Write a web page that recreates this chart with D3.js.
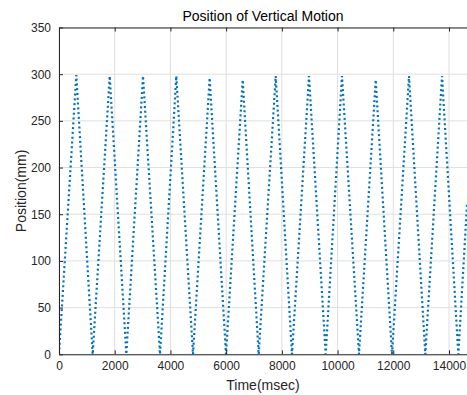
<!DOCTYPE html>
<html>
<head>
<meta charset="utf-8">
<script src="https://cdn.jsdelivr.net/npm/d3@7"></script>
<style>
  body { margin: 0; background: #fff; }
  svg { font-family: "Liberation Sans", Arial, sans-serif; }
</style>
</head>
<body>
<div id="chart"></div>
<script>
// time (msec) of each turning point, and position (mm) there
const times = [0, 621, 1209, 1820, 2417, 3016, 3626, 4211, 4810, 5408, 5995, 6594,
  7168, 7779, 8364, 8974, 9573, 10159, 10769, 11369, 11953, 12564, 13149, 13749, 14335, 14646];
const positions = [0, 299, 0, 298, 0, 298, 0, 298, 0, 296, 0, 294,
  0, 298, 0, 298, 0, 298, 0, 294, 0, 298, 0, 298, 0, 160];
const xTicks = [0, 2000, 4000, 6000, 8000, 10000, 12000, 14000];
const yTicks = [0, 50, 100, 150, 200, 250, 300, 350];

const W = 467, H = 395;
const margin = { top: 27.5, right: 0, bottom: 40.7, left: 59 };
const width = W - margin.left - margin.right;
const height = H - margin.top - margin.bottom;

const data = times.map((t, i) => ({ t: t, p: positions[i] }));

const svg = d3.select('#chart')
  .append('svg')
  .attr('width', W)
  .attr('height', H);

const g = svg.append('g')
  .attr('transform', `translate(${margin.left}, ${margin.top})`);

/* Scale */
const x = d3.scaleLinear().domain([0, 14646]).range([0, width]);
const y = d3.scaleLinear().domain([0, 350]).range([height, 0]);

/* Grid */
g.append('g')
  .selectAll('line')
  .data(xTicks)
  .enter()
  .append('line')
  .attr('x1', d => x(d)).attr('x2', d => x(d))
  .attr('y1', 0).attr('y2', height)
  .attr('stroke', '#dfdfdf').attr('stroke-width', 1);

g.append('g')
  .selectAll('line')
  .data(yTicks)
  .enter()
  .append('line')
  .attr('x1', 0).attr('x2', width)
  .attr('y1', d => y(d)).attr('y2', d => y(d))
  .attr('stroke', '#dfdfdf').attr('stroke-width', 1);

/* Line */
g.append('clipPath').attr('id', 'clip')
  .append('rect').attr('width', width).attr('height', height + 2).attr('y', -1);

const line = d3.line().x(d => x(d.t)).y(d => y(d.p));

g.append('path')
  .datum(data)
  .attr('clip-path', 'url(#clip)')
  .attr('d', line)
  .attr('fill', 'none')
  .attr('stroke', '#0072bd')
  .attr('stroke-width', 2.2)
  .attr('stroke-dasharray', '2,2.8');

/* Axes */
const axisColor = '#262626';
const fmt = d3.format('d');
function styleAxis(sel) {
  sel.select('.domain').attr('stroke', axisColor);
  sel.selectAll('.tick line').attr('stroke', axisColor);
  sel.selectAll('.tick text')
    .attr('fill', axisColor)
    .style('font-size', '12px')
    .style('font-family', '"Liberation Sans", Arial, sans-serif');
}

g.append('g')
  .attr('transform', `translate(0, ${height})`)
  .call(d3.axisBottom(x).tickValues(xTicks).tickFormat(fmt).tickSizeInner(-4).tickSizeOuter(0).tickPadding(7))
  .call(styleAxis);

g.append('g')
  .call(d3.axisTop(x).tickValues(xTicks).tickSizeInner(-4).tickSizeOuter(0).tickFormat(''))
  .call(styleAxis);

g.append('g')
  .call(d3.axisLeft(y).tickValues(yTicks).tickFormat(fmt).tickSizeInner(-4).tickSizeOuter(0).tickPadding(8))
  .call(styleAxis);

/* Labels */
svg.append('text')
  .attr('x', margin.left + 204)
  .attr('y', 21)
  .attr('text-anchor', 'middle')
  .attr('fill', '#000')
  .style('font-size', '14px')
  .text('Position of Vertical Motion');

svg.append('text')
  .attr('x', margin.left + 204)
  .attr('y', 390)
  .attr('text-anchor', 'middle')
  .attr('fill', axisColor)
  .style('font-size', '14px')
  .text('Time(msec)');

svg.append('text')
  .attr('transform', `translate(26, ${margin.top + height / 2}) rotate(-90)`)
  .attr('text-anchor', 'middle')
  .attr('fill', axisColor)
  .style('font-size', '14px')
  .text('Position(mm)');
</script>
</body>
</html>
